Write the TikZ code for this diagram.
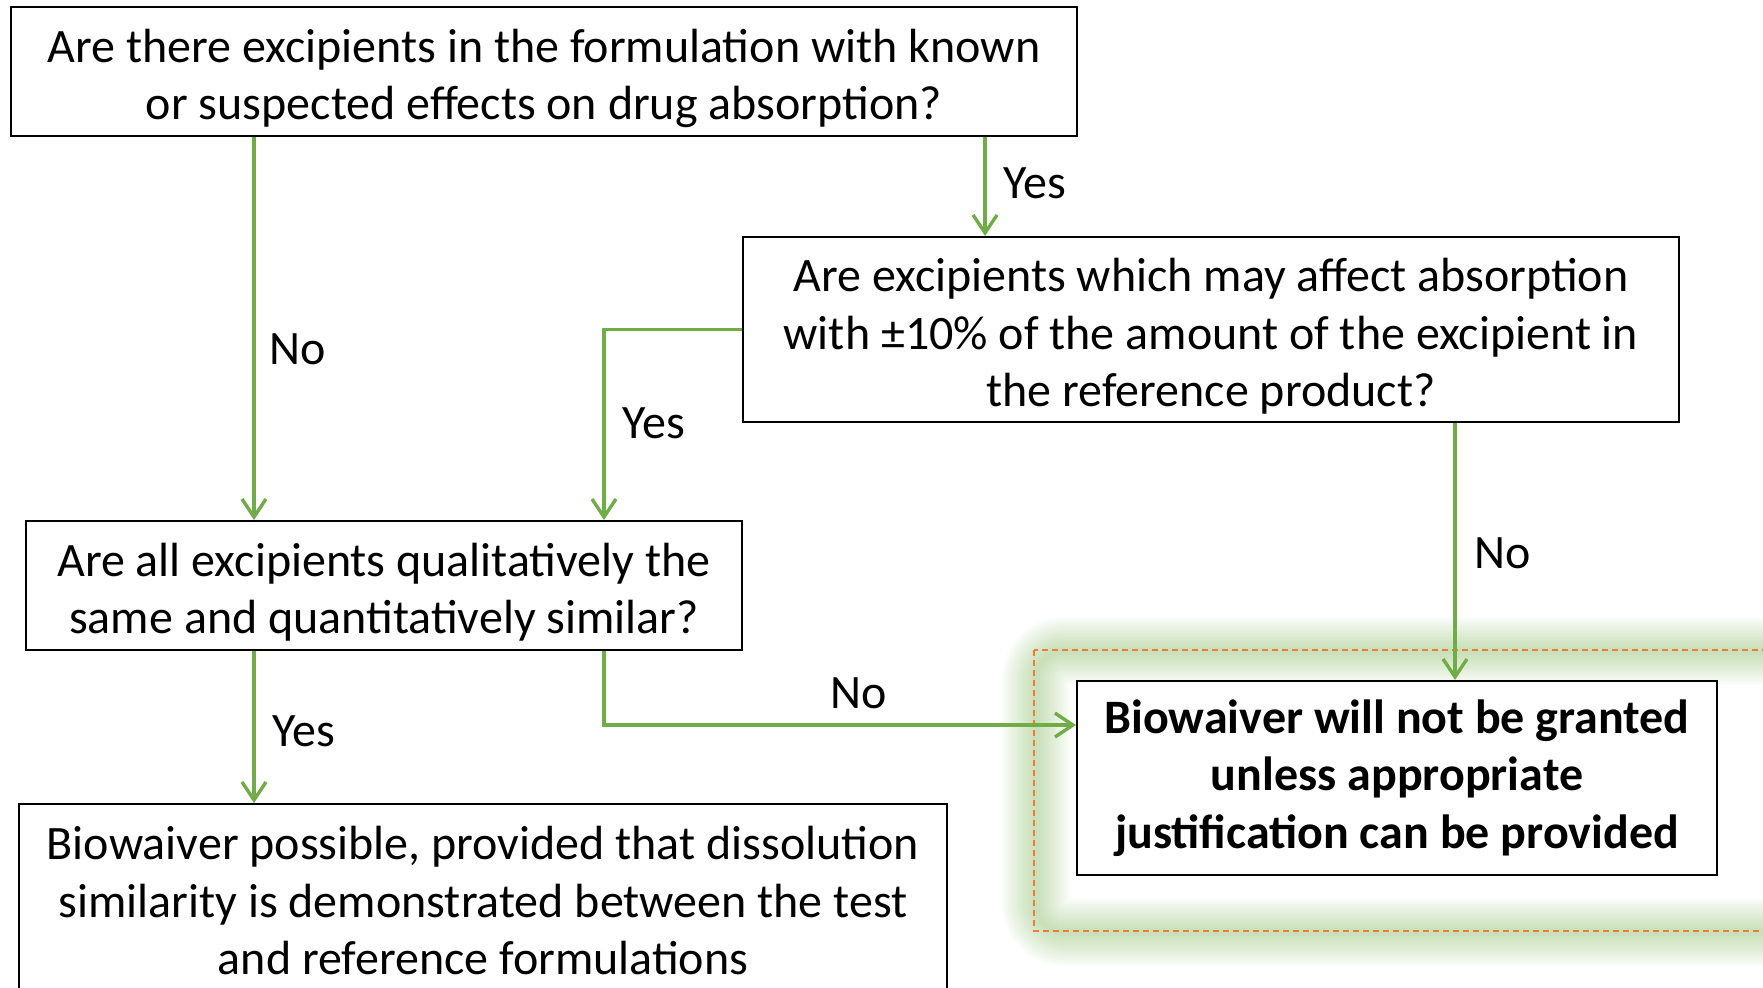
\documentclass[tikz,border=0pt]{standalone}
\usepackage{fontspec}
\setmainfont{Carlito}
\usetikzlibrary{arrows.meta}
\definecolor{flowgreen}{HTML}{70AD47}
\definecolor{dashorange}{HTML}{ED7D31}
\newcommand{\lowstrut}{\rule{0pt}{23.5pt}}
\tikzset{
  box/.style={draw=black, line width=1pt, fill=white, align=center, inner sep=0pt,
    font=\fontsize{24}{28.7}\selectfont},
  flow/.style={draw=flowgreen, line width=1.7pt, -{Straight Barb[length=9pt,width=12pt]}},
  lbl/.style={font=\fontsize{24}{28.7}\selectfont},
}
\begin{document}
\begin{tikzpicture}[x=0.5pt,y=-0.5pt]
\useasboundingbox (0,0) rectangle (1763,987);
\clip (0,0) rectangle (1763,987);
% glow round the end box
\foreach \w in {2,4,...,34}
  \draw[flowgreen, opacity=0.028, line width=\w pt, rounded corners=14pt] (1036,651) rectangle (1800,932);
\draw[dashorange, line width=0.75pt, dash pattern=on 3pt off 2pt] (1034,650) rectangle (1800,931);
% boxes
\node[box, minimum width=533pt, minimum height=64.5pt] (q1) at (544,71.5)
  {\lowstrut Are there excipients in the formulation with known\\ or suspected effects on drug absorption?};
\node[box, minimum width=468pt, minimum height=92.5pt] (q2) at (1211,329.5)
  {\lowstrut Are excipients which may affect absorption\\ with ±10\% of the amount of the excipient in\\ the reference product?};
\node[box, minimum width=358pt, minimum height=64.5pt] (q3) at (384,585.5)
  {\lowstrut Are all excipients qualitatively the\\ same and quantitatively similar?};
\node[box, minimum width=464pt, minimum height=96.5pt] (q4) at (483,900.5)
  {Biowaiver possible, provided that dissolution\\ similarity is demonstrated between the test\\ and reference formulations};
\node[box, minimum width=320pt, minimum height=97pt, font=\fontsize{24}{28.7}\selectfont\bfseries] (q5) at (1397,778)
  {Biowaiver will not be granted\\ unless appropriate\\ justification can be provided};
% connectors
\coordinate (xa) at (254,0);
\coordinate (xb) at (985,0);
\coordinate (xc) at (604,0);
\coordinate (xd) at (1455,0);
\coordinate (ya) at (0,725);
\draw[flow] (q1.south -| xa) -- (q3.north -| xa);
\draw[flow] (q1.south -| xb) -- (q2.north -| xb);
\draw[flow] (q2.west) -| (q3.north -| xc);
\draw[flow] (q2.south -| xd) -- (q5.north -| xd);
\draw[flow] (q3.south -| xc) |- (q5.west |- ya);
\draw[flow] (q3.south -| xa) -- (q4.north -| xa);
% labels
\node[lbl] (no1) at (298,349) {No};
\node[lbl] (yes1) at (1035,183) {Yes};
\node[lbl] (yes2) at (654,423) {Yes};
\node[lbl] (no2) at (1503,553) {No};
\node[lbl] (no3) at (859,693) {No};
\node[lbl] (yes3) at (304,731) {Yes};
\end{tikzpicture}
\end{document}
